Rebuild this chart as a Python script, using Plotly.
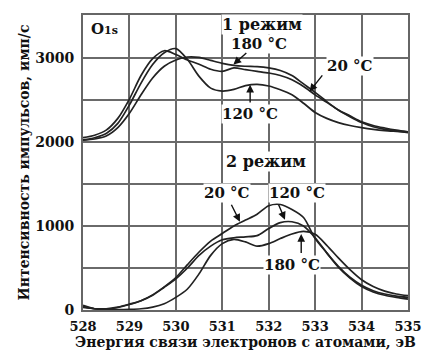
import plotly.graph_objects as go

energy = [528, 528.25, 528.5, 528.75, 529, 529.25, 529.5, 529.75, 530, 530.25,
          530.5, 530.75, 531, 531.25, 531.5, 531.75, 532, 532.25, 532.5, 532.75,
          533, 533.25, 533.5, 533.75, 534, 534.25, 534.5, 534.75, 535]

# Mode 1 (1 режим)
m1_180 = [2050, 2080, 2140, 2280, 2510, 2790, 2990, 3085, 3040, 2975,
          2925, 2865, 2840, 2880, 2860, 2840, 2820, 2790, 2740, 2660,
          2560, 2470, 2380, 2310, 2240, 2195, 2165, 2140, 2120]
m1_120 = [2025, 2050, 2100, 2220, 2440, 2700, 2920, 3060, 3110, 2980,
          2780, 2640, 2605, 2625, 2670, 2685, 2665, 2620, 2560, 2460,
          2350, 2280, 2230, 2195, 2170, 2150, 2135, 2125, 2115]
m1_20 = [2020, 2035, 2070, 2170, 2340, 2560, 2760, 2900, 2975, 3010,
         3005, 2970, 2935, 2910, 2900, 2895, 2880, 2850, 2790, 2690,
         2590, 2480, 2380, 2300, 2230, 2180, 2150, 2130, 2110]

# Mode 2 (2 режим)
m2_20 = [30, 15, 10, 30, 65, 110, 180, 275, 385, 540,
         690, 820, 910, 1000, 1070, 1140, 1240, 1255, 1195, 1100,
         850, 680, 510, 380, 280, 215, 175, 150, 130]
m2_120 = [40, 15, 15, 35, 70, 110, 175, 270, 370, 500,
          650, 760, 835, 860, 870, 885, 970, 1040, 1050, 1000,
          860, 680, 520, 390, 295, 230, 190, 165, 150]
m2_180 = [55, 15, 5, 5, 8, 15, 35, 75, 150, 250,
          430, 650, 790, 840, 810, 760, 790, 850, 905, 935,
          900, 770, 620, 480, 360, 280, 225, 190, 170]

x_ticks = [528, 529, 530, 531, 532, 533, 534, 535]
y_grid = [0, 500, 1000, 1500, 2000, 2500, 3000, 3500]
y_labels = ["0", "", "1000", "", "2000", "", "3000", ""]
x_range = [528, 535]
y_range = [0, 3510]

FONT = "DejaVu Serif"
INK = "#111111"
GRID = "#6a6a6a"

fig = go.Figure()
for ys in [m1_180, m1_120, m1_20, m2_20, m2_120, m2_180]:
    fig.add_trace(go.Scatter(x=energy, y=ys, mode="lines",
                             line=dict(color="#222222", width=1.7, shape="spline", smoothing=0.8),
                             showlegend=False, hoverinfo="skip"))

def label(text, x, y, size=15):
    fig.add_annotation(text=text, x=x, y=y, xref="x", yref="y", showarrow=False,
                       font=dict(family=FONT, size=size, color=INK, weight="bold"),
                       bgcolor="white", borderpad=0)

fig.add_annotation(text="O<span style='font-size:11px'>1s</span>", x=528.12, y=3340,
                   xref="x", yref="y", xanchor="left", showarrow=False,
                   font=dict(family=FONT, size=15, color=INK, weight="bold"))
label("1 режим", 531.85, 3400, size=16)
label("180 °C", 531.8, 3160, size=15)
label("20 °C", 533.75, 2900, size=15)
label("120 °C", 531.6, 2330, size=15)
label("2 режим", 531.95, 1770, size=16)
label("20 °C", 531.1, 1390, size=15)
label("120 °C", 532.6, 1390, size=15)
label("180 °C", 532.5, 530, size=15)

arrows = [
    # (tip_x, tip_y, tail_x, tail_y)
    (531.24, 2920, 531.55, 3075),
    (532.88, 2600, 533.18, 2810),
    (531.6, 2680, 531.6, 2450),
    (531.38, 1050, 531.18, 1270),
    (532.35, 1075, 532.2, 1270),
    (532.7, 905, 532.7, 660),
]
for tx, ty, sx, sy in arrows:
    fig.add_annotation(x=tx, y=ty, ax=sx, ay=sy, xref="x", yref="y", axref="x", ayref="y",
                       text="", showarrow=True, arrowhead=2, arrowsize=1.1,
                       arrowwidth=1.4, arrowcolor=INK, standoff=0)

fig.update_xaxes(range=x_range, tickvals=x_ticks, ticktext=[str(v) for v in x_ticks],
                 showgrid=True, gridcolor=GRID, gridwidth=2, automargin=False,
                 showline=True, linecolor="#666666", linewidth=2, mirror=True,
                 ticks="", zeroline=False, ticklabelstandoff=3,
                 tickfont=dict(family=FONT, size=13, color=INK, weight="bold"),
                 title=dict(text="Энергия связи электронов с атомами, эВ", standoff=0,
                            font=dict(family=FONT, size=14, color=INK, weight="bold")))
fig.update_yaxes(range=y_range, tickvals=y_grid, ticktext=y_labels,
                 showgrid=True, gridcolor=GRID, gridwidth=2, automargin=False,
                 showline=True, linecolor="#666666", linewidth=2, mirror=True,
                 ticks="", zeroline=False, ticklabelstandoff=4,
                 tickfont=dict(family=FONT, size=14, color=INK, weight="bold"),
                 title=dict(text="Интенсивность импульсов, имп/с", standoff=2,
                            font=dict(family=FONT, size=14, color=INK, weight="bold")))

# page body has an 8px margin, so the figure is shifted; margins compensate
fig.update_layout(width=442, height=354, autosize=False,
                  margin=dict(l=75, r=42, t=7, b=52),
                  paper_bgcolor="white", plot_bgcolor="white")

fig.write_html("out.html")
